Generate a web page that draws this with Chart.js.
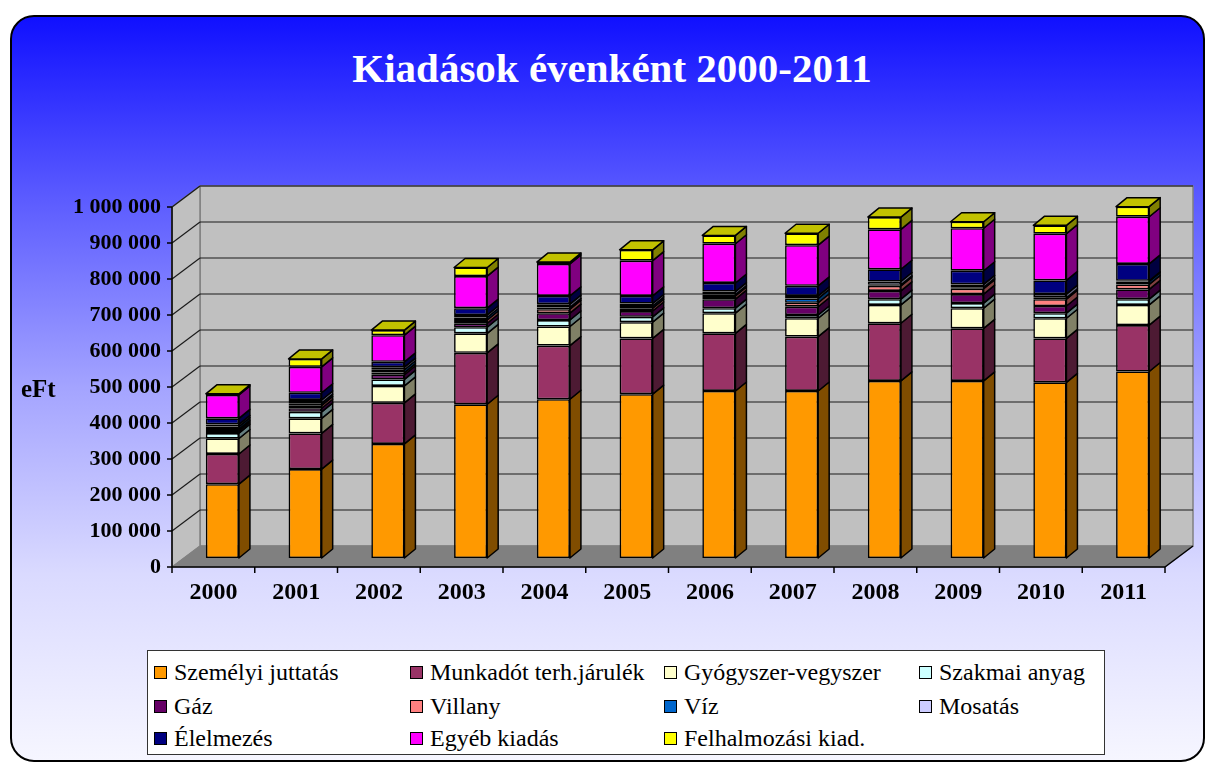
<!DOCTYPE html>
<html>
<head>
<meta charset="utf-8">
<script src="https://cdn.jsdelivr.net/npm/chart.js@4.4.1/dist/chart.umd.min.js"></script>
<style>
html,body{margin:0;padding:0;background:#fff;}
#wrap{position:relative;width:1208px;height:765px;overflow:hidden;}
#bg{position:absolute;left:10px;top:15px;width:1195px;height:747px;box-sizing:border-box;border:2px solid #000;border-radius:24px;
  background:linear-gradient(#1010ff 0%,#5a5aff 24%,#a4a4ff 50%,#dadaff 75%,#f6f6ff 100%);}
#c{position:absolute;left:0;top:0;}
#title{position:absolute;left:0;top:48px;width:1224px;text-align:center;font:bold 41px "Liberation Serif",serif;line-height:41px;color:#fff;white-space:nowrap;}
#eft{position:absolute;left:21px;top:376px;font:bold 25px "Liberation Serif",serif;line-height:25px;color:#000;}
#legend{position:absolute;left:147px;top:650px;width:958px;height:105px;box-sizing:border-box;background:#fff;border:1.5px solid #333;}
.li{position:absolute;font:24px "Liberation Serif",serif;line-height:28px;white-space:nowrap;color:#000;}
.sw{position:absolute;width:13px;height:13px;box-sizing:border-box;border:1.5px solid #000;}
</style>
</head>
<body>
<div id="wrap">
  <div id="bg"></div>
  <div id="title"></div>
  <canvas id="c" width="1208" height="765"></canvas>
  <div id="eft">eFt</div>
  <div id="legend"></div>
</div>
<script>
// ---- data (eFt) ----
const title = 'Kiadások évenként 2000-2011';
const years = ['2000','2001','2002','2003','2004','2005','2006','2007','2008','2009','2010','2011'];
const seriesNames = ['Személyi juttatás','Munkadót terh.járulék','Gyógyszer-vegyszer','Szakmai anyag','Gáz','Villany','Víz','Mosatás','Élelmezés','Egyéb kiadás','Felhalmozási kiad.'];
const szemelyi     = [205000,247000,317000,427000,441000,455000,464000,464000,492000,492000,488000,518000];
const munkaado     = [ 84000, 99000,114000,143000,149000,155000,160000,151000,160000,146000,122000,129000];
const gyogyszer    = [ 43000, 42000, 47000, 54000, 53000, 45000, 56000, 51000, 51000, 56000, 56000, 56000];
const szakmai      = [ 15000, 18000, 18000, 17000, 18000, 15000, 14000,  9000, 16000, 14000, 14000, 16000];
const gaz          = [  6000, 10000, 13000, 11000, 19000, 16000, 25000, 23000, 23000, 25000, 20000, 27000];
const villany      = [  5000,  8000,  6000,  9000, 11000,  8000,  9000, 11000, 14000, 15000, 19000, 14000];
const viz          = [  7000,  6000,  8000,  7000,  5000,  6000,  4000, 12000,  3000,  4000,  4000,  8000];
const mosatas      = [  6000,  9000,  7000,  7000,  9000,  7000,  8000,  7000,  9000,  8000, 10000,  2000];
const elelmezes    = [ 17000, 20000, 15000, 19000, 23000, 21000, 24000, 28000, 34000, 38000, 38000, 47000];
const egyeb        = [ 65000, 72000, 74000, 89000, 89000, 98000,109000,113000,111000,118000,130000,131000];
const felhalmozasi = [  3000, 22000, 14000, 24000,  5000, 30000, 23000, 33000, 34000, 18000, 23000, 28000];
const seriesValues = [szemelyi,munkaado,gyogyszer,szakmai,gaz,villany,viz,mosatas,elelmezes,egyeb,felhalmozasi];
const yMax = 1000000, yStep = 100000;

// ---- styles ----
const colors = ['#FF9900','#993366','#FFFFCC','#CCFFFF','#660066','#FF8080','#0066CC','#CCCCFF','#000080','#FF00FF','#FFFF00'];
const serif = '"Liberation Serif", "Times New Roman", serif';
const FRONT = {x:-9, y:9}, BACK = {x:19, y:-12}, DEPTH = {x:11, y:-9};

function shade(hex, f){
  const n = parseInt(hex.slice(1),16);
  const r=(n>>16)&255, g=(n>>8)&255, b=n&255;
  return 'rgb('+Math.round(r*f)+','+Math.round(g*f)+','+Math.round(b*f)+')';
}
function poly(ctx, pts, fill, stroke, lw){
  ctx.beginPath();
  ctx.moveTo(pts[0][0], pts[0][1]);
  for (let i=1;i<pts.length;i++) ctx.lineTo(pts[i][0], pts[i][1]);
  ctx.closePath();
  if (fill){ ctx.fillStyle = fill; ctx.fill(); }
  if (stroke){ ctx.strokeStyle = stroke; ctx.lineWidth = lw || 1; ctx.stroke(); }
}
function seg(ctx, x1,y1,x2,y2){ ctx.beginPath(); ctx.moveTo(x1,y1); ctx.lineTo(x2,y2); ctx.stroke(); }
const fmt = v => String(v).replace(/\B(?=(\d{3})+(?!\d))/g,' ');

document.getElementById('title').textContent = title;

const walls3d = {
  id:'walls3d',
  beforeDatasetsDraw(chart){
    const {ctx, chartArea:a, scales} = chart;
    const ys = scales.y;
    const L=a.left, R=a.right, T=ys.getPixelForValue(yMax), Bt=ys.getPixelForValue(0);
    ctx.save();
    ctx.lineJoin='round';
    poly(ctx, [[L+BACK.x,T+BACK.y],[R+BACK.x,T+BACK.y],[R+BACK.x,Bt+BACK.y],[L+BACK.x,Bt+BACK.y]], '#c0c0c0', '#808080', 1.5);
    poly(ctx, [[L+FRONT.x,T+FRONT.y],[L+BACK.x,T+BACK.y],[L+BACK.x,Bt+BACK.y],[L+FRONT.x,Bt+FRONT.y]], '#c0c0c0', '#808080', 1.5);
    poly(ctx, [[L+FRONT.x,Bt+FRONT.y],[R+FRONT.x,Bt+FRONT.y],[R+BACK.x,Bt+BACK.y],[L+BACK.x,Bt+BACK.y]], '#808080', '#808080', 1);
    ctx.strokeStyle='#1a1a1a'; ctx.lineWidth=1.2;
    ys.ticks.forEach(t=>{
      const py = ys.getPixelForValue(t.value);
      if (t.value > 0){
        seg(ctx, L+FRONT.x, py+FRONT.y, L+BACK.x, py+BACK.y);
        seg(ctx, L+BACK.x, py+BACK.y, R+BACK.x, py+BACK.y);
      }
    });
    ctx.strokeStyle='#000'; ctx.lineWidth=1.5;
    seg(ctx, L+FRONT.x, T+FRONT.y, L+FRONT.x, Bt+FRONT.y);
    ys.ticks.forEach(t=>{
      const py = ys.getPixelForValue(t.value);
      seg(ctx, L+FRONT.x-5, py+FRONT.y, L+FRONT.x, py+FRONT.y);
    });
    seg(ctx, L+FRONT.x, Bt+FRONT.y, R+FRONT.x, Bt+FRONT.y);
    seg(ctx, R+FRONT.x, Bt+FRONT.y, R+BACK.x, Bt+BACK.y);
    const n = years.length;
    for (let i=0;i<=n;i++){
      const px = L + (R-L)*i/n + FRONT.x;
      seg(ctx, px, Bt+FRONT.y, px, Bt+FRONT.y+6);
    }
    ctx.restore();
  },
  afterDatasetsDraw(chart){
    const ctx = chart.ctx;
    ctx.save();
    ctx.lineJoin='round';
    const n = years.length;
    const topEl = new Array(n).fill(null), topDs = new Array(n).fill(-1);
    chart.data.datasets.forEach((ds, di)=>{
      const meta = chart.getDatasetMeta(di);
      meta.data.forEach((el, i)=>{
        if (!ds.data[i]) return;
        const p = el.getProps(['x','y','base','width'], true);
        const r = p.x + p.width/2;
        poly(ctx, [[r,p.y],[r+DEPTH.x,p.y+DEPTH.y],[r+DEPTH.x,p.base+DEPTH.y],[r,p.base]], shade(colors[di],0.5), '#000', 1.5);
        topEl[i] = p; topDs[i] = di;
      });
    });
    topEl.forEach((p,i)=>{
      if (!p) return;
      const l = p.x - p.width/2, r = p.x + p.width/2;
      poly(ctx, [[l,p.y],[l+DEPTH.x,p.y+DEPTH.y],[r+DEPTH.x,p.y+DEPTH.y],[r,p.y]], shade(colors[topDs[i]],0.76), '#000', 1.5);
    });
    ctx.restore();
  }
};

const datasets = seriesNames.map((name, i)=>({
  label: name,
  data: seriesValues[i],
  backgroundColor: colors[i],
  borderColor: '#000',
  borderWidth: 1.6,
  borderSkipped: false,
  barPercentage: 0.4,
  categoryPercentage: 1.0,
  stack: 's'
}));

new Chart(document.getElementById('c'), {
  type: 'bar',
  data: { labels: years, datasets },
  options: {
    responsive: false,
    animation: false,
    devicePixelRatio: 1,
    layout: { padding: { left: 0, right: 34, top: 198, bottom: 0 } },
    plugins: {
      legend: { display: false },
      tooltip: { enabled: false },
      title: { display: false }
    },
    scales: {
      x: {
        stacked: true,
        grid: { display: false, drawTicks: false },
        border: { display: false },
        ticks: { color: '#000', font: { family: serif, size: 24, weight: 'bold' }, padding: 20, labelOffset: FRONT.x, autoSkip: false, maxRotation: 0 },
        afterFit(s){ s.height = 207; }
      },
      y: {
        stacked: true, min: 0, max: yMax,
        grid: { display: false, drawTicks: false },
        border: { display: false },
        ticks: { stepSize: yStep, color: '#000', font: { family: serif, size: 22, weight: 'bold' }, padding: 20, labelOffset: FRONT.y, callback: v => fmt(v) },
        afterFit(s){ s.width = 181; }
      }
    }
  },
  plugins: [walls3d]
});

// ---- legend (HTML, built from the series) ----
const legend = document.getElementById('legend');
const colX = [26, 282, 536, 791];
const rowY = [21, 55, 87];
seriesNames.forEach((name, i)=>{
  const c = i % 4, r = Math.floor(i / 4);
  const sw = document.createElement('div');
  sw.className = 'sw';
  sw.style.left = (colX[c]-20)+'px';
  sw.style.top = (rowY[r]-6)+'px';
  sw.style.background = colors[i];
  legend.appendChild(sw);
  const t = document.createElement('div');
  t.className = 'li';
  t.style.left = colX[c]+'px';
  t.style.top = (rowY[r]-14)+'px';
  t.textContent = name;
  legend.appendChild(t);
});
</script>
</body>
</html>
